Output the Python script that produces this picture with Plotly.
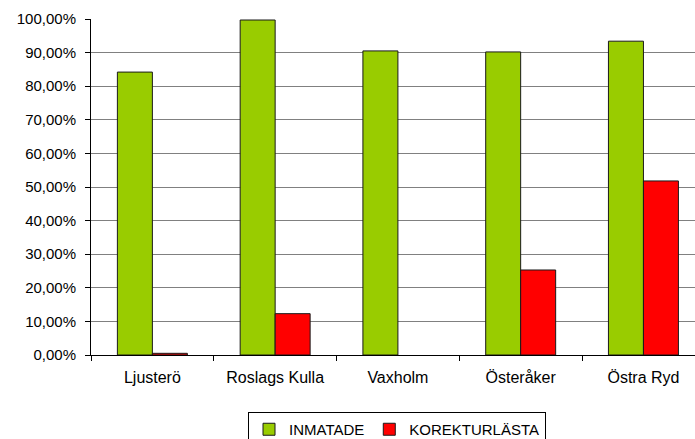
import plotly.graph_objects as go

categories = ["Ljusterö", "Roslags Kulla", "Vaxholm", "Österåker", "Östra Ryd"]
inmatade = [0.842, 0.997, 0.905, 0.902, 0.934]
korekturlasta = [0.005, 0.123, None, 0.253, 0.518]
yticks = [0, 0.1, 0.2, 0.3, 0.4, 0.5, 0.6, 0.7, 0.8, 0.9, 1.0]

fig = go.Figure()
fig.add_bar(x=categories, y=inmatade, name="INMATADE",
            marker=dict(color="#99CC00", line=dict(color="#1a1a1a", width=1)))
fig.add_bar(x=categories, y=korekturlasta, name="KOREKTURLÄSTA",
            marker=dict(color="#FF0000", line=dict(color="#1a1a1a", width=1)))

fig.update_layout(
    width=695, height=439,
    margin=dict(l=91, r=0, t=19, b=84, autoexpand=False),
    paper_bgcolor="white", plot_bgcolor="white",
    barmode="group", bargap=0.43, bargroupgap=0,
    separators=",.",
    font=dict(family="Liberation Sans, Arial, sans-serif", size=15, color="black"),
    showlegend=True,
    legend=dict(orientation="h", xref="container", yref="container",
                x=397 / 695, xanchor="center", y=27 / 439, yanchor="top",
                bordercolor="black", borderwidth=1, font=dict(size=15),
                itemwidth=30, tracegroupgap=0),
)
fig.update_xaxes(range=[-0.5, 4.42], showline=True, linecolor="black", linewidth=1,
                 ticks="outside", tickson="boundaries", ticklen=5, tickcolor="black",
                 showgrid=False, tickfont=dict(size=16), ticklabelstandoff=8)
fig.update_yaxes(range=[0, 1.0], tickvals=yticks, tickformat=".2%",
                 showline=True, linecolor="black", linewidth=1,
                 ticks="outside", ticklen=5, tickcolor="black",
                 showgrid=True, gridcolor="#808080", gridwidth=1,
                 zeroline=False, tickfont=dict(size=15), ticklabelstandoff=6)

fig.write_html("out.html", config={"displayModeBar": False},
               post_script="document.body.style.margin='0';")
